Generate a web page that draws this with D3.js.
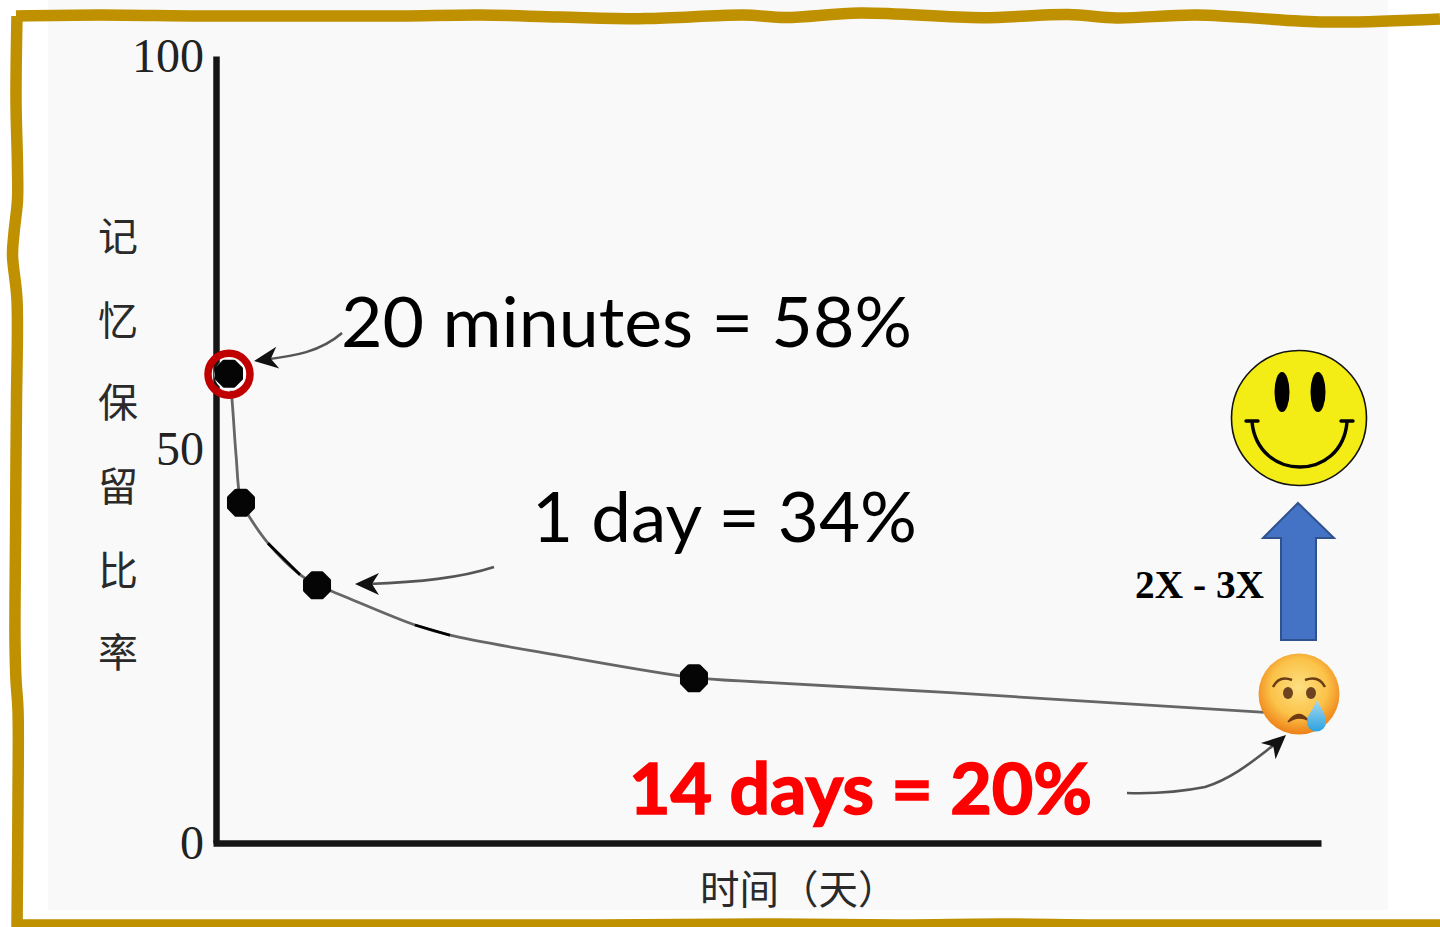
<!DOCTYPE html>
<html><head><meta charset="utf-8">
<style>html,body{margin:0;padding:0;background:#fff;overflow:hidden}svg{display:block}</style>
<script src="https://cdn.jsdelivr.net/npm/d3@7/dist/d3.min.js"></script>
</head><body><svg id="c" width="1440" height="927"></svg>
<script>
// ---- data ----
const curveDays = [0.168,0.207,0.259,0.323,0.414,0.672,1.086,1.306,1.668,2.572,3.025,4.447,6.179,6.774,9.488,11.43,13.56];
const curveRetention = [59.7,56.3,49.3,43.3,41.7,38.1,34.1,32.8,31.3,27.7,26.4,23.8,21.0,20.6,19.1,17.9,16.6];
const markerDays = [0.168,0.323,1.306,6.179];
const markerRetention = [59.7,43.3,32.8,21.0];
const blackStretchStart = [5,9];          // curve sections redrawn in black
const yTicks = [0,50,100];
const yLabelChars = ["记","忆","保","留","比","率"];
const xLabel = "时间（天）";
const notes = ["20 minutes = 58%","1 day = 34%","14 days = 20%"];
const gainLabel = "2X - 3X";

const svg = d3.select("#c");
const x = d3.scaleLinear().domain([0,14]).range([216,1299]);
const y = d3.scaleLinear().domain([0,100]).range([843,56]);
const defs = svg.append("defs");

// panel background
svg.append("rect").attr("x",48).attr("y",0).attr("width",1340).attr("height",910).attr("fill","#f9f9f9");

// y axis / x axis
const yAxis = d3.axisLeft(y).tickValues(yTicks).tickSize(0).tickPadding(12).tickFormat(d3.format("d"));
const gy = svg.append("g").attr("transform",`translate(${x(0)},0)`).call(yAxis);
gy.select(".domain").attr("stroke","#151515").attr("stroke-width",6.5);
gy.selectAll("text").attr("font-family","'Liberation Serif',serif").attr("font-size",48).attr("fill","#222").attr("dy","0.32em");
const gx = svg.append("g").attr("transform",`translate(0,${y(0)})`).call(
  d3.axisBottom(d3.scaleLinear().domain([0,14.28]).range([x(0)-3,1321])).tickValues([]).tickSize(0));
gx.select(".domain").attr("stroke","#151515").attr("stroke-width",6.5);

// axis titles
const cjk = "'Noto Sans CJK SC','Noto Sans',sans-serif";
svg.append("g").selectAll("text").data(yLabelChars).join("text")
  .attr("x",118).attr("y",(d,i)=>[251,335,417,501,585,667][i])
  .attr("text-anchor","middle").attr("font-family",cjk).attr("font-size",40).attr("fill","#2a2a2a").text(d=>d);
svg.append("text").attr("x",700).attr("y",904).attr("text-anchor","start")
  .attr("font-family",cjk).attr("font-size",39.5).attr("fill","#2a2a2a").text(xLabel);

// forgetting curve
const pts = curveDays.map((d,i)=>[d,curveRetention[i]]);
const line = d3.line().x(d=>x(d[0])).y(d=>y(d[1])).curve(d3.curveCatmullRom);
svg.append("path").attr("d",line(pts)).attr("fill","none").attr("stroke","#666").attr("stroke-width",2.8);
svg.append("g").selectAll("path").data(blackStretchStart).join("path")
  .attr("d",i=>line(pts.slice(i,i+2))).attr("fill","none").attr("stroke","#000").attr("stroke-width",2.8);

// markers (rounded octagons)
const octagon = d3.lineRadial().angle((d,i)=>Math.PI/8+i*Math.PI/4).radius(13).curve(d3.curveLinearClosed);
svg.append("circle").attr("cx",x(markerDays[0])+1.5).attr("cy",y(markerRetention[0])+1.5).attr("r",16).attr("fill","#fff");
svg.append("g").selectAll("path").data(markerDays).join("path")
  .attr("transform",(d,i)=>`translate(${x(d)},${y(markerRetention[i])+0.5})`)
  .attr("d",octagon(d3.range(8))).attr("fill","#050505").attr("stroke","#050505").attr("stroke-width",4).attr("stroke-linejoin","round");
svg.append("circle").attr("cx",x(markerDays[0])).attr("cy",y(markerRetention[0])+1).attr("r",21)
  .attr("fill","none").attr("stroke","#c00000").attr("stroke-width",7.5);

// annotation arrows
function arrow(d,tip,angle,scale){
  svg.append("path").attr("d",d).attr("fill","none").attr("stroke","#555").attr("stroke-width",2.6);
  svg.append("path").attr("transform",`translate(${tip}) rotate(${angle}) scale(${scale})`)
    .attr("d","M0,0 L-24,-11 L-17,0 L-24,11 Z").attr("fill","#111");
}
arrow("M342,333 C320,352 295,356 262,360",[254,361],172,1);
arrow("M494,567 C460,578 420,582 368,584",[355,584],180,1);
arrow("M1127,793 C1160,794 1185,791 1205,787 C1235,778 1260,755 1278,742",[1286,735],-42,1);

// note text
const sans = "Lato,Carlito,'Open Sans',sans-serif";
const noteAttrs = [[341,347,571,400,"#000",0],[532,542,385,400,"#000",0],[629,814,463,700,"#ff0000",1.6]];
svg.append("g").selectAll("text").data(notes).join("text")
  .attr("x",(d,i)=>noteAttrs[i][0]).attr("y",(d,i)=>noteAttrs[i][1])
  .attr("textLength",(d,i)=>noteAttrs[i][2]).attr("lengthAdjust","spacingAndGlyphs")
  .attr("font-family",sans).attr("font-size",70).attr("font-weight",(d,i)=>noteAttrs[i][3])
  .attr("fill",(d,i)=>noteAttrs[i][4]).attr("stroke",(d,i)=>noteAttrs[i][4]).attr("stroke-width",(d,i)=>noteAttrs[i][5]).text(d=>d);
svg.append("text").attr("x",1135).attr("y",598).attr("textLength",129).attr("lengthAdjust","spacingAndGlyphs")
  .attr("font-family","'Liberation Serif',serif").attr("font-weight",700).attr("font-size",39).attr("fill","#000").text(gainLabel);

// blue arrow
svg.append("path").attr("d","M1298,503 L1334,538 L1316,538 L1316,640 L1281,640 L1281,538 L1263,538 Z")
  .attr("fill","#4472c4").attr("stroke","#2f528f").attr("stroke-width",2);

// smiley
const sm = svg.append("g");
sm.append("circle").attr("cx",1299).attr("cy",418).attr("r",67.5).attr("fill","#f4ec15").attr("stroke","#111").attr("stroke-width",1.6);
sm.selectAll("ellipse").data([1282,1318]).join("ellipse").attr("cx",d=>d).attr("cy",392).attr("rx",7.5).attr("ry",20).attr("fill","#000");
sm.append("path").attr("d","M1252,422 C1258,482 1342,482 1347,422").attr("fill","none").attr("stroke","#000").attr("stroke-width",3.4);
sm.append("path").attr("d","M1246,421 L1258,421 M1341,421 L1353,421").attr("stroke","#000").attr("stroke-width",3.4).attr("stroke-linecap","round");

// crying face
const rg = defs.append("radialGradient").attr("id","face").attr("cx","50%").attr("cy","42%").attr("r","58%");
rg.append("stop").attr("offset","0").attr("stop-color","#fde083");
rg.append("stop").attr("offset","0.6").attr("stop-color","#fbc349");
rg.append("stop").attr("offset","1").attr("stop-color","#ee7f17");
const tg = defs.append("linearGradient").attr("id","tear").attr("x1",0).attr("y1",0).attr("x2",0).attr("y2",1);
tg.append("stop").attr("offset","0").attr("stop-color","#a9d9ef");
tg.append("stop").attr("offset","1").attr("stop-color","#2ba3e0");
const cf = svg.append("g");
cf.append("circle").attr("cx",1299).attr("cy",694).attr("r",40.5).attr("fill","url(#face)");
cf.append("path").attr("d","M1273,687 Q1279,675 1292,680 M1305,680 Q1319,675 1325,687").attr("fill","none").attr("stroke","#6b3d14").attr("stroke-width",2.6);
cf.selectAll("ellipse").data([1288,1311]).join("ellipse").attr("cx",d=>d).attr("cy",693).attr("rx",5).attr("ry",6).attr("fill","#6e4320");
cf.append("path").attr("d","M1288,722 Q1298,708 1308,720 Q1298,715 1288,722 Z").attr("fill","#6e3a12").attr("stroke","#6e3a12").attr("stroke-width",1.5);
cf.append("path").attr("d","M1317,700 C1322,710 1326,715 1326,722 A9.5,9.5 0 0 1 1307,722 C1307,715 1313,710 1317,700 Z").attr("fill","url(#tear)");

// hand-drawn frame
const topEdgeX=[16,100,200,300,400,480,560,645,743,786,860,982,1068,1117,1196,1325,1440];
const topEdgeY=[16,15,16,16,16,15,17,18.6,15,17.5,13,17.7,14.5,18,15,22,19];
const leftEdgeY=[16,100,167,200,233,255,300,400,460,540,640,680,710,800,927];
const leftEdgeX=[17,16,17.5,17.5,14,12.5,17,16.5,16,15.5,15,16,18,18,17];
const bottomEdgeX=[17,200,400,600,760,900,1000,1100,1240,1440];
const bottomEdgeY=[925,925,925,925,924,925,924,925,925,925];
const frame = d3.line().curve(d3.curveCatmullRom);
const frameG = svg.append("g").attr("fill","none").attr("stroke","#bf9000").attr("stroke-width",11.5);
frameG.append("path").attr("d",frame(topEdgeX.map((v,i)=>[v,topEdgeY[i]])));
frameG.append("path").attr("d",frame(leftEdgeY.map((v,i)=>[leftEdgeX[i],v])));
frameG.append("path").attr("d",frame(bottomEdgeX.map((v,i)=>[v,bottomEdgeY[i]])));
</script></body></html>
